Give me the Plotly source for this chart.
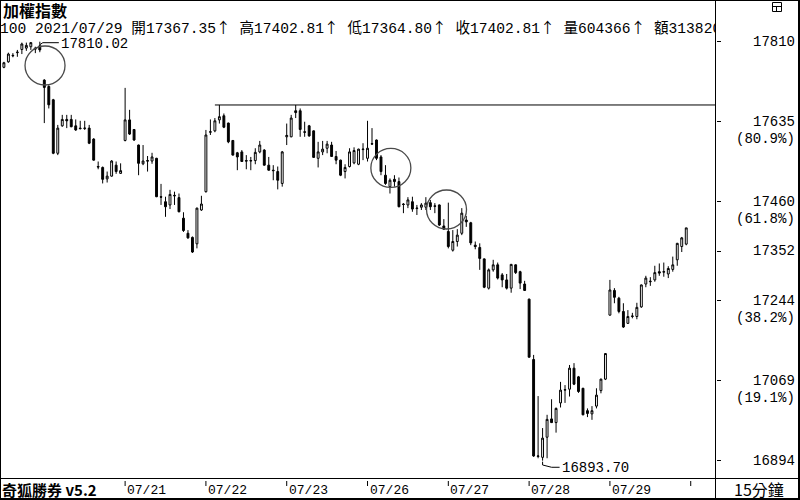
import plotly.graph_objects as go

# ---------------- data (15-minute bars, TAIEX) ----------------
opens = [
    17754, 17766, 17779, 17786, 17793, 17796, 17799, 17796, 17801,
    17726, 17712, 17683, 17566, 17626, 17640, 17640, 17626, 17621, 17620, 17621, 17597, 17537, 17535, 17510, 17516, 17540, 17522,
    17594, 17639, 17618, 17584, 17543, 17550, 17549, 17555, 17471, 17460, 17453, 17474, 17469, 17424, 17391, 17382, 17368, 17442,
    17482, 17612, 17615, 17639, 17648, 17632, 17594, 17567, 17569, 17550, 17549, 17550, 17569, 17573, 17540, 17529, 17526, 17500,
    17602, 17602, 17659, 17659, 17613, 17626, 17615, 17555, 17569, 17577, 17584, 17559, 17551, 17526, 17537, 17545, 17542, 17574,
    17555, 17586, 17595, 17558, 17518, 17493, 17509, 17504, 17455, 17453, 17460, 17445, 17448, 17448, 17458, 17451, 17453, 17407,
    17395, 17354, 17373, 17391, 17420, 17414, 17365, 17360, 17335, 17271, 17311, 17322, 17300, 17289, 17271, 17322, 17307, 17280,
    17247, 17115, 16903, 16901, 16945, 16985, 16977, 17020, 17048, 17050, 17096, 17077, 17052, 17003, 16996, 17013, 17047, 17072,
    17212, 17266, 17249, 17220, 17194, 17209, 17209, 17230, 17280, 17285, 17289, 17307, 17306, 17302, 17312, 17333, 17362, 17367.35,
]
highs = [
    17766, 17786, 17785, 17792, 17808, 17808, 17809, 17799, 17810.02,
    17728, 17715, 17685, 17628, 17650, 17650, 17650, 17640, 17637, 17637, 17628, 17599, 17548, 17537, 17526, 17551, 17548, 17544,
    17709, 17661, 17619, 17585, 17584, 17560, 17567, 17556, 17499, 17471, 17486, 17482, 17478, 17437, 17398, 17384, 17447, 17473,
    17617, 17640, 17643, 17671.6, 17653, 17633, 17595, 17569, 17573, 17562, 17558, 17577, 17593, 17575, 17558, 17540, 17537, 17571,
    17631, 17650, 17671.6, 17664, 17635, 17628, 17616, 17591, 17593, 17593, 17591, 17571, 17552, 17542, 17577, 17579, 17576, 17588,
    17637, 17621, 17596, 17562, 17540, 17511, 17518, 17513, 17457, 17470, 17471, 17453, 17457, 17470, 17464, 17457, 17454, 17422,
    17458, 17398, 17400, 17446, 17429, 17416, 17373, 17369, 17336, 17314, 17333, 17327, 17304, 17302, 17324, 17323, 17309, 17287,
    17248, 17125, 17035, 16965, 16994, 17028, 17010, 17066, 17059, 17103, 17107, 17079, 17053, 17008, 17013, 17052, 17073, 17129,
    17289, 17271, 17252, 17238, 17223, 17217, 17239, 17279, 17298, 17295, 17320, 17325, 17327, 17319, 17340, 17370, 17383, 17402.81,
]
lows = [
    17752, 17764, 17776, 17777, 17783, 17790, 17792, 17785, 17787,
    17632, 17664, 17564, 17562, 17624, 17621, 17623, 17615, 17618, 17617, 17586, 17550, 17531, 17500, 17502, 17515, 17521, 17521,
    17592, 17606, 17593, 17518, 17540, 17526, 17543, 17470, 17453, 17427, 17444, 17453, 17437, 17394, 17379, 17348, 17358, 17440,
    17480, 17606, 17612, 17631, 17621, 17588, 17561, 17529, 17547, 17531, 17529, 17542, 17566, 17539, 17528, 17507, 17487, 17493,
    17584, 17601, 17643, 17602, 17602, 17602, 17556, 17535, 17562, 17566, 17558, 17542, 17516, 17511, 17535, 17542, 17540, 17551,
    17548, 17584, 17551, 17518, 17497, 17478, 17493, 17448, 17435, 17446, 17438, 17431, 17442, 17442, 17442, 17435, 17407, 17399,
    17358, 17351, 17362, 17387, 17405, 17365, 17356, 17311, 17271, 17268, 17307, 17290, 17273, 17268, 17261, 17302, 17269, 17265,
    17119, 16902, 16899, 16893.70, 16899, 16976, 16955, 17010, 17020, 17034, 17059, 17042, 16993, 16989, 16983, 17008, 17041, 17070,
    17211, 17238, 17216, 17184, 17193, 17205, 17203, 17228, 17273, 17276, 17285, 17298, 17296, 17293, 17307, 17320, 17350, 17364.80,
]
closes = [
    17764, 17783, 17780, 17787, 17805, 17802, 17808, 17794, 17792,
    17710, 17672, 17566, 17621, 17640, 17637, 17624, 17617, 17620, 17621, 17588, 17551, 17536, 17509, 17516, 17549, 17526, 17528,
    17639, 17608, 17595, 17544, 17549, 17549, 17558, 17471, 17470, 17449, 17476, 17473, 17438, 17397, 17381, 17350, 17446, 17455,
    17606, 17613, 17637, 17646, 17623, 17591, 17562, 17558, 17548, 17549, 17550, 17568, 17584, 17540, 17529, 17528, 17507, 17569,
    17605, 17643, 17655, 17618, 17612, 17604, 17557, 17569, 17575, 17586, 17559, 17551, 17518, 17535, 17569, 17572, 17575, 17575,
    17577, 17587, 17555, 17526, 17500, 17507, 17504, 17449, 17454, 17464, 17444, 17446, 17453, 17457, 17449, 17450, 17409, 17400,
    17362, 17373, 17387, 17435, 17416, 17370, 17362, 17336, 17273, 17311, 17322, 17293, 17289, 17271, 17323, 17305, 17282, 17266,
    17120, 16904, 16904, 16943, 16984, 16977, 17008, 17048, 17049, 17096, 17061, 17045, 16994, 16997, 17003, 17037, 17072, 17128,
    17267, 17251, 17220, 17186, 17209, 17210, 17229, 17278, 17293, 17286, 17305, 17304, 17307, 17314, 17322, 17369, 17381, 17402.81,
]
bar_index = list(range(len(closes)))

day_start_index = [27, 45, 63, 81, 99, 117, 135, 153]
day_labels = ["07/21", "07/22", "07/23", "07/26", "07/27", "07/28", "07/29", ""]

level_values = [17810, 17635, 17460, 17352, 17244, 17069, 16894]
level_labels = ["17810", "17635", "17460", "17352", "17244", "17069", "16894"]
level_pcts = ["", "(80.9%)", "(61.8%)", "", "(38.2%)", "(19.1%)", ""]

resistance_level = 17671.6
resistance_start = 47
high_index, high_value = 8, 17810.02
low_index, low_value = 120, 16893.70
circle_x = [9.16, 86.2, 98.6]
circle_y = [17758, 17534, 17443]

info_head = "100 2021/07/29 "
info_items = [("開", "17367.35"), ("高", "17402.81"), ("低", "17364.80"),
              ("收", "17402.81"), ("量", "604366"), ("額", "313820699")]

# ---------------- layout geometry ----------------
W, H = 800, 500
ML, MR, MT, MB = 0, 84, 0, 22
PW, PH = W - ML - MR, H - MT - MB
x_range = [-0.87, 158.63]
y_range = [16855.8, 17901.2]

def pxp(px):
    return (px - ML) / PW

def pyp(py):
    return (MT + PH - py) / PH

def y_at(py):
    return y_range[1] - (py - MT) / PH * (y_range[1] - y_range[0])

MONO = "Liberation Mono, Noto Sans CJK TC, monospace"
CJK = "Noto Sans CJK TC, Liberation Mono, sans-serif"
ARROW = '<span style="font-family:Noto Sans CJK TC">↑</span> '

info_text = info_head + "".join(
    f"{k}{v}" + (ARROW if i < len(info_items) - 1 else "")
    for i, (k, v) in enumerate(info_items))

fig = go.Figure()
fig.add_trace(go.Candlestick(
    x=bar_index, open=opens, high=highs, low=lows, close=closes,
    increasing=dict(line=dict(color="black", width=1), fillcolor="white"),
    decreasing=dict(line=dict(color="black", width=1), fillcolor="black"),
    whiskerwidth=0, showlegend=False, hoverinfo="skip",
))
fig.add_trace(go.Scatter(
    x=[x_range[0]], y=[y_at(29)], mode="text", text=[info_text],
    textposition="middle right", cliponaxis=True,
    textfont=dict(family=MONO, size=14.6, color="black"),
    showlegend=False, hoverinfo="skip",
))

shapes = []
line_k = dict(color="black", width=1)
# outer frame
shapes.append(dict(type="rect", xref="paper", yref="paper", x0=pxp(0), x1=pxp(800),
                   y0=pyp(500), y1=pyp(0), line=dict(color="black", width=2)))
shapes.append(dict(type="line", xref="paper", yref="paper", x0=pxp(798.5), x1=pxp(798.5),
                   y0=pyp(500), y1=pyp(0), line=line_k))
shapes.append(dict(type="line", xref="paper", yref="paper", x0=pxp(0), x1=pxp(800),
                   y0=pyp(498.5), y1=pyp(498.5), line=line_k))
# separators
shapes.append(dict(type="line", xref="paper", yref="paper", x0=pxp(715.5), x1=pxp(715.5),
                   y0=pyp(500), y1=pyp(0), line=line_k))
shapes.append(dict(type="line", xref="paper", yref="paper", x0=pxp(0), x1=pxp(800),
                   y0=pyp(478.5), y1=pyp(478.5), line=line_k))
# date ticks
for xi in day_start_index:
    shapes.append(dict(type="line", xref="x", yref="paper", x0=xi, x1=xi,
                       y0=pyp(481), y1=pyp(486), line=line_k))
# resistance line
shapes.append(dict(type="line", xref="x", yref="y", x0=resistance_start, x1=x_range[1],
                   y0=resistance_level, y1=resistance_level, line=line_k))
# circles
for cx, cy in zip(circle_x, circle_y):
    shapes.append(dict(type="circle", xref="x", yref="y", xsizemode="pixel", ysizemode="pixel",
                       xanchor=cx, yanchor=cy, x0=-20, x1=20, y0=-19.5, y1=19.5,
                       line=dict(color="#4a4a4a", width=1.3)))
# high / low connectors
shapes.append(dict(type="path", xref="x", yref="y", xsizemode="pixel", ysizemode="pixel",
                   xanchor=high_index, yanchor=high_value,
                   path="M0,-3 L3,-1 L19,-1", line=line_k))
shapes.append(dict(type="path", xref="x", yref="y", xsizemode="pixel", ysizemode="pixel",
                   xanchor=low_index, yanchor=low_value,
                   path="M0,-1 L0,-4.3 L9,-6.6 L17,-6.6", line=line_k))
# small window icon top-right
shapes.append(dict(type="rect", xref="paper", yref="paper", x0=pxp(772.5), x1=pxp(781.5),
                   y0=pyp(11.5), y1=pyp(2.5), line=line_k))
shapes.append(dict(type="line", xref="paper", yref="paper", x0=pxp(772.5), x1=pxp(781.5),
                   y0=pyp(6.5), y1=pyp(6.5), line=line_k))
shapes.append(dict(type="line", xref="paper", yref="paper", x0=pxp(776.5), x1=pxp(776.5),
                   y0=pyp(6.5), y1=pyp(11.5), line=line_k))

ann = []
ann.append(dict(text="<b>加權指數</b>", xref="paper", yref="paper", x=pxp(1), y=pyp(10),
                xanchor="left", yanchor="middle", showarrow=False,
                font=dict(family=CJK, size=16, color="black")))
ann.append(dict(text="<b>奇狐勝券 v5.2</b>", xref="paper", yref="paper", x=pxp(0), y=pyp(489),
                xanchor="left", yanchor="middle", showarrow=False,
                font=dict(family=CJK, size=15, color="black")))
ann.append(dict(text="15分鐘", xref="paper", yref="paper", x=pxp(759), y=pyp(489),
                xanchor="center", yanchor="middle", showarrow=False,
                font=dict(family=CJK, size=16, color="black")))
for xi, lab in zip(day_start_index, day_labels):
    if lab:
        ann.append(dict(text=lab, xref="x", yref="paper", x=xi, y=pyp(490), xshift=0,
                        xanchor="left", yanchor="middle", showarrow=False,
                        font=dict(family=MONO, size=13, color="black")))
for v, lab, pct in zip(level_values, level_labels, level_pcts):
    ann.append(dict(text=lab, xref="paper", yref="y", x=pxp(797), y=v,
                    xanchor="right", yanchor="middle", showarrow=False,
                    font=dict(family=MONO, size=14, color="black")))
    if pct:
        ann.append(dict(text=pct, xref="paper", yref="y", x=pxp(797), y=v, yshift=-17,
                        xanchor="right", yanchor="middle", showarrow=False,
                        font=dict(family=MONO, size=14, color="black")))
ann.append(dict(text=f"{high_value:.2f}", xref="x", yref="y", x=high_index, y=high_value,
                xshift=19, yshift=-2, xanchor="left", yanchor="middle", showarrow=False,
                font=dict(family=MONO, size=14, color="black")))
ann.append(dict(text=f"{low_value:.2f}", xref="x", yref="y", x=low_index, y=low_value,
                xshift=17, yshift=-7, xanchor="left", yanchor="middle", showarrow=False,
                font=dict(family=MONO, size=14, color="black")))

fig.update_layout(
    width=W, height=H,
    margin=dict(l=ML, r=MR, t=MT, b=MB, pad=0),
    paper_bgcolor="white", plot_bgcolor="white",
    template="none", showlegend=False, boxgap=0.4,
    xaxis=dict(range=x_range, showgrid=False, zeroline=False, showticklabels=False,
               ticks="", showline=False, rangeslider=dict(visible=False), fixedrange=True),
    yaxis=dict(range=y_range, side="right", showgrid=False, zeroline=False,
               showticklabels=False, ticks="outside", ticklen=4, tickwidth=1,
               tickcolor="black", tickvals=level_values, showline=False, fixedrange=True),
    shapes=shapes, annotations=ann,
)

fig.write_html(
    "out.html",
    config={"displayModeBar": False},
    post_script="document.body.style.margin='0';document.body.style.padding='0';"
                "document.body.style.overflow='hidden';",
)
